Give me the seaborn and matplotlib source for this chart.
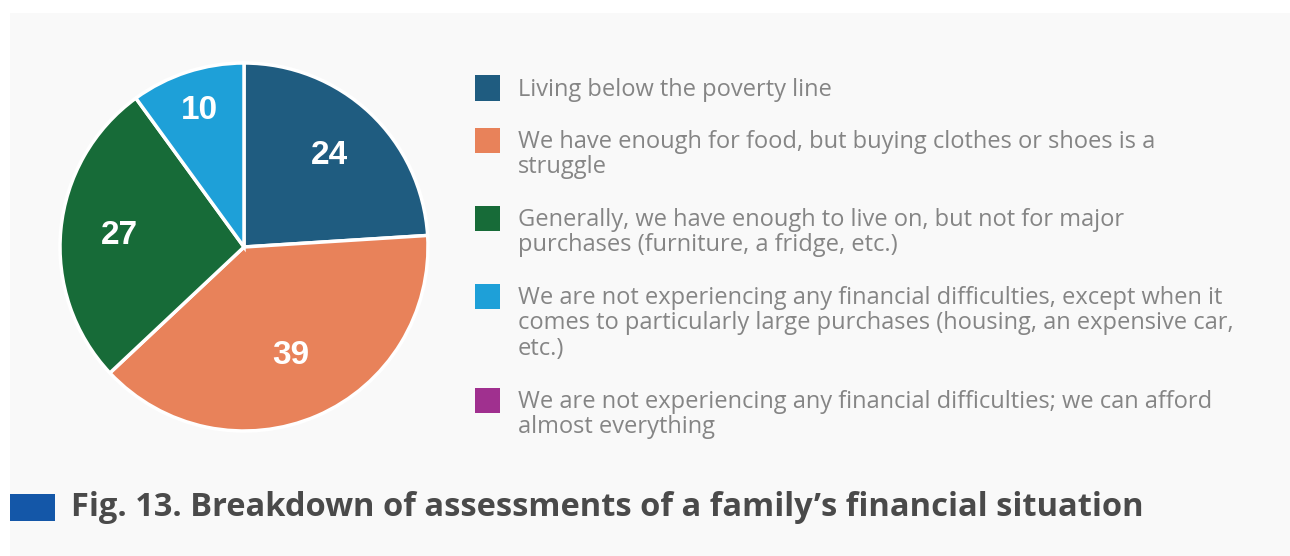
import matplotlib
matplotlib.use("Agg")
import matplotlib.pyplot as plt
import seaborn as sns
import numpy as np
from matplotlib.patches import Rectangle

# ---- data ----
categories = [
    "Living below the poverty line",
    "We have enough for food, but buying clothes or shoes is a\nstruggle",
    "Generally, we have enough to live on, but not for major\npurchases (furniture, a fridge, etc.)",
    "We are not experiencing any financial difficulties, except when it\ncomes to particularly large purchases (housing, an expensive car,\netc.)",
    "We are not experiencing any financial difficulties; we can afford\nalmost everything",
]
values = [24, 39, 27, 10, 0]
colors = ["#1f5c80", "#e8825a", "#176b38", "#1ea0d8", "#a0308f"]
title = "Fig. 13. Breakdown of assessments of a family\u2019s financial situation"

# label radial distances (layout only)
label_r = [0.68, 0.64, 0.68, 0.78]

sns.set_theme(style="white")
plt.rcParams["font.family"] = ["Open Sans", "DejaVu Sans"]

W, H = 1290, 556
fig = plt.figure(figsize=(W / 100, H / 100), dpi=100)
fig.patch.set_facecolor("white")

def fx(px):
    return px / W

def fy(py):
    return 1 - py / H

# light panel
fig.patches.append(Rectangle((fx(10), 0), 1 - fx(10), fy(13), transform=fig.transFigure,
                             facecolor="#f9f9f9", edgecolor="none", zorder=-5))

# pie
cx, cy, r = 244, 247, 184
ax = fig.add_axes([fx(cx - r), fy(cy + r), 2 * r / W, 2 * r / H])
ax.set_zorder(2)
ax.set_facecolor("none")
nz = [(v, c) for v, c in zip(values, colors) if v > 0]
wedges, texts = ax.pie([v for v, _ in nz], colors=[c for _, c in nz], startangle=90,
                       counterclock=False, radius=1,
                       wedgeprops=dict(edgecolor="white", linewidth=2.5))
for w, (v, _), lr in zip(wedges, nz, label_r):
    ang = np.deg2rad((w.theta1 + w.theta2) / 2)
    ax.text(lr * np.cos(ang), lr * np.sin(ang), str(v), ha="center", va="center",
            color="white", fontsize=24, fontweight="bold", family="Liberation Sans")
ax.set_xlim(-1, 1)
ax.set_ylim(-1, 1)
ax.set_aspect("equal")
ax.axis("off")

# legend
y = 88
line_h = 26
for lab, col in zip(categories, colors):
    fig.patches.append(Rectangle((fx(475), fy(y + 12.5)), 25 / W, 25 / H,
                                 transform=fig.transFigure, facecolor=col,
                                 edgecolor="none", zorder=2))
    fig.text(fx(518), fy(y - 10), lab, ha="left", va="top", fontsize=17,
             color="#858585", linespacing=1.07)
    n = lab.count("\n") + 1
    y += n * line_h + 26

# title
fig.patches.append(Rectangle((fx(10), fy(521)), 45 / W, 27 / H, transform=fig.transFigure,
                             facecolor="#1457a8", edgecolor="none", zorder=2))
fig.text(fx(71), fy(507), title, ha="left", va="center", fontsize=23.5,
         fontweight="bold", color="#4a4a4a")

fig.savefig("out.png", dpi=100)
